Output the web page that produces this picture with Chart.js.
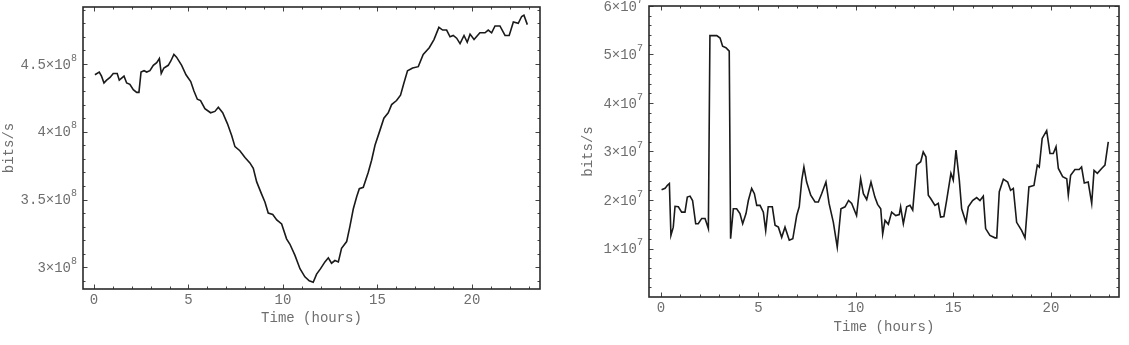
<!DOCTYPE html>
<html lang="en">
<head>
<meta charset="UTF-8">
<script src="https://cdn.jsdelivr.net/npm/chart.js"></script>
<title>bits/s over time</title>
<style>
  body { margin: 0; background: #fff; }
  .wrap { position: absolute; top: 0; height: 345px; }
  #leftWrap { left: 0; width: 560px; }
  #rightWrap { left: 560px; width: 569px; }
</style>
</head>
<body>
<div class="wrap" id="leftWrap"><canvas id="leftChart" width="560" height="345"></canvas></div>
<div class="wrap" id="rightWrap"><canvas id="rightChart" width="569" height="345"></canvas></div>

<script>
// left panel: time (hours) vs rate in units of 10^8 bits/s
const leftTime = [0.05, 0.28, 0.40, 0.53, 0.67, 0.85, 1.02, 1.23, 1.34, 1.59, 1.73, 1.90, 2.08, 2.26, 2.38,
  2.49, 2.65, 2.79, 2.96, 3.14, 3.32, 3.46, 3.56, 3.70, 3.93, 4.06, 4.23, 4.37, 4.64, 4.87, 5.12, 5.29,
  5.47, 5.64, 5.87, 6.17, 6.40, 6.58, 6.81, 7.06, 7.29, 7.46, 7.72, 7.99, 8.25, 8.43, 8.61, 8.87, 9.05,
  9.22, 9.46, 9.67, 9.93, 10.19, 10.37, 10.63, 10.90, 11.16, 11.39, 11.60, 11.78, 11.99, 12.22, 12.40,
  12.57, 12.75, 12.93, 13.10, 13.37, 13.54, 13.72, 13.90, 14.04, 14.25, 14.51, 14.69, 14.87, 15.13,
  15.34, 15.57, 15.75, 16.01, 16.22, 16.40, 16.59, 16.86, 17.16, 17.42, 17.74, 17.99, 18.25, 18.45,
  18.66, 18.84, 19.01, 19.19, 19.37, 19.58, 19.75, 19.90, 20.11, 20.42, 20.69, 20.86, 21.04, 21.22,
  21.48, 21.75, 21.97, 22.19, 22.45, 22.63, 22.75, 22.93];
const leftRate = [4.42, 4.44, 4.41, 4.36, 4.38, 4.40, 4.43, 4.43, 4.38, 4.41, 4.36, 4.35, 4.31, 4.29, 4.29,
  4.44, 4.45, 4.44, 4.45, 4.49, 4.51, 4.54, 4.43, 4.47, 4.49, 4.52, 4.57, 4.55, 4.49, 4.42, 4.37, 4.30,
  4.24, 4.23, 4.17, 4.14, 4.15, 4.18, 4.14, 4.06, 3.97, 3.89, 3.86, 3.81, 3.77, 3.73, 3.63, 3.54, 3.48,
  3.40, 3.39, 3.35, 3.32, 3.21, 3.17, 3.09, 2.99, 2.93, 2.90, 2.89, 2.95, 2.99, 3.04, 3.07,
  3.03, 3.05, 3.04, 3.14, 3.19, 3.30, 3.43, 3.52, 3.58, 3.59, 3.70, 3.79, 3.90, 4.01,
  4.10, 4.14, 4.20, 4.23, 4.27, 4.36, 4.45, 4.47, 4.48, 4.57, 4.62, 4.68, 4.77, 4.75,
  4.75, 4.70, 4.71, 4.69, 4.65, 4.71, 4.66, 4.72, 4.68, 4.73, 4.73, 4.75, 4.73, 4.78,
  4.78, 4.71, 4.71, 4.81, 4.80, 4.85, 4.86, 4.79];

// right panel: time (hours) vs rate in units of 10^7 bits/s
const rightTime = [0.03, 0.21, 0.32, 0.43, 0.51, 0.63, 0.72, 0.89, 1.06, 1.23, 1.35, 1.49, 1.62, 1.78, 1.91,
  2.09, 2.26, 2.43, 2.51, 2.86, 3.03, 3.16, 3.33, 3.50, 3.57, 3.71, 3.88, 4.05, 4.19, 4.36, 4.48, 4.65,
  4.79, 4.91, 5.08, 5.25, 5.37, 5.50, 5.71, 5.85, 6.02, 6.19, 6.36, 6.58, 6.76, 6.96, 7.09, 7.22, 7.33,
  7.47, 7.68, 7.90, 8.07, 8.24, 8.46, 8.62, 8.84, 9.04, 9.23, 9.44, 9.62, 9.78, 10.03, 10.24, 10.38,
  10.55, 10.77, 10.97, 11.11, 11.27, 11.37, 11.49, 11.66, 11.83, 12.04, 12.22, 12.29, 12.43, 12.60,
  12.77, 12.91, 13.11, 13.32, 13.45, 13.59, 13.71, 13.83, 14.05, 14.22, 14.34, 14.51, 14.65, 14.87,
  14.99, 15.13, 15.30, 15.42, 15.64, 15.76, 15.98, 16.19, 16.36, 16.53, 16.65, 16.87, 17.13, 17.22,
  17.35, 17.56, 17.78, 17.93, 18.07, 18.24, 18.50, 18.67, 18.87, 19.13, 19.30, 19.40, 19.55, 19.78,
  19.95, 20.12, 20.26, 20.38, 20.60, 20.81, 20.89, 21.01, 21.23, 21.45, 21.57, 21.71, 21.91, 22.09,
  22.21, 22.38, 22.60, 22.77, 22.94];
const rightRate = [2.21, 2.24, 2.30, 2.34, 1.27, 1.44, 1.87, 1.86, 1.75, 1.75, 2.06, 2.08, 1.99, 1.51, 1.51,
  1.62, 1.62, 1.41, 5.39, 5.39, 5.34, 5.17, 5.14, 5.07, 1.20, 1.82, 1.82, 1.72, 1.51, 1.72, 1.99, 2.24,
  2.13, 1.89, 1.89, 1.75, 1.37, 1.86, 1.86, 1.48, 1.44, 1.23, 1.44, 1.17, 1.20, 1.68, 1.86, 2.41, 2.68,
  2.37, 2.10, 1.96, 1.96, 2.13, 2.37, 1.93, 1.54, 1.03, 1.82, 1.86, 1.99, 1.93, 1.68, 2.44, 2.13,
  2.01, 2.37, 2.06, 1.91, 1.82, 1.30, 1.58, 1.50, 1.75, 1.68, 1.70, 1.86, 1.51, 1.86,
  1.89, 1.79, 2.72, 2.79, 2.99, 2.89, 2.10, 2.03, 1.89, 1.93, 1.65, 1.66, 1.99, 2.55,
  2.41, 3.03, 2.41, 1.82, 1.54, 1.86, 1.99, 2.05, 1.99, 2.08, 1.41, 1.27, 1.22, 1.22,
  2.17, 2.43, 2.37, 2.20, 2.24, 1.54, 1.37, 1.22, 2.27, 2.30, 2.72, 2.68, 3.27, 3.43,
  2.96, 2.96, 3.10, 2.65, 2.48, 2.44, 2.10, 2.51, 2.63, 2.63, 2.68, 2.35, 2.37, 1.93,
  2.61, 2.55, 2.65, 2.72, 3.20];

// tick marks and labels
const timeTicks = [0, 5, 10, 15, 20];
const leftYTicks = [3, 3.5, 4, 4.5];
const leftYLabels = ['3', '3.5', '4', '4.5'];
const leftExponent = '8';
const rightYTicks = [1, 2, 3, 4, 5, 6];
const rightYLabels = ['1', '2', '3', '4', '5', '6'];
const rightExponent = '7';

const FONT = '"Liberation Mono", "DejaVu Sans Mono", monospace';
const TEXT = '#6e6e6e';

// Mathematica style frame: box, inward ticks on all four sides, labels
const framePlugin = {
    id: 'frame',
    afterDraw(chart, args, o) {
        const ctx = chart.ctx;
        const a = chart.chartArea;
        const xs = chart.scales.x, ys = chart.scales.y;
        ctx.save();

        ctx.strokeStyle = '#444';
        ctx.lineWidth = 1;
        function xTick(v, len) {
            const px = Math.round(xs.getPixelForValue(v)) + 0.5;
            ctx.beginPath();
            ctx.moveTo(px, a.bottom); ctx.lineTo(px, a.bottom - len);
            ctx.moveTo(px, a.top); ctx.lineTo(px, a.top + len);
            ctx.stroke();
        }
        function yTick(v, len) {
            const py = Math.round(ys.getPixelForValue(v)) + 0.5;
            ctx.beginPath();
            ctx.moveTo(a.left, py); ctx.lineTo(a.left + len, py);
            ctx.moveTo(a.right, py); ctx.lineTo(a.right - len, py);
            ctx.stroke();
        }
        for (let t = 0; t <= 23; t++) xTick(t, t % 5 === 0 ? 4.5 : 2.5);
        for (let k = 0; k <= o.yMinorCount; k++) {
            const v = o.yMinorStart + k * o.yMinorStep;
            const isMajor = o.yTicks.some(m => Math.abs(m - v) < 1e-6);
            yTick(v, isMajor ? 4.5 : 2.5);
        }

        ctx.strokeStyle = '#2a2a2a';
        ctx.lineWidth = 1.6;
        ctx.strokeRect(a.left, a.top, a.right - a.left, a.bottom - a.top);

        ctx.fillStyle = TEXT;
        ctx.font = '14px ' + FONT;
        ctx.textAlign = 'center';
        ctx.textBaseline = 'middle';
        timeTicks.forEach(t => ctx.fillText(String(t), xs.getPixelForValue(t), a.bottom + 11));
        ctx.fillText('Time (hours)', (a.left + a.right) / 2, a.bottom + o.titleGap);

        // y labels like 4.5×10^8
        o.yTicks.forEach((v, i) => {
            const py = ys.getPixelForValue(v);
            const right = a.left - 6;
            ctx.font = '10px ' + FONT;
            const ew = ctx.measureText(o.exponent).width;
            ctx.textAlign = 'right';
            ctx.fillText(o.exponent, right, py - 6);
            ctx.font = '14px ' + FONT;
            ctx.fillText(o.yLabels[i] + '×10', right - ew, py + 1);
        });

        ctx.translate(o.yTitleX, (a.top + a.bottom) / 2);
        ctx.rotate(-Math.PI / 2);
        ctx.textAlign = 'center';
        ctx.font = '14px ' + FONT;
        ctx.fillText('bits/s', 0, 0);
        ctx.restore();
    }
};

function makeChart(id, times, rates, xMin, xMax, yMin, yMax, padding, frameOpts) {
    const points = times.map((t, i) => ({ x: t, y: rates[i] }));
    return new Chart(document.getElementById(id), {
        type: 'line',
        data: {
            datasets: [{
                data: points,
                borderColor: '#1a1a1a',
                borderWidth: 1.6,
                pointRadius: 0,
                tension: 0,
                fill: false
            }]
        },
        options: {
            responsive: false,
            animation: false,
            layout: { padding: padding },
            scales: {
                x: { type: 'linear', min: xMin, max: xMax, display: false },
                y: { type: 'linear', min: yMin, max: yMax, display: false }
            },
            plugins: {
                legend: { display: false },
                tooltip: { enabled: false },
                frame: frameOpts
            }
        },
        plugins: [framePlugin]
    });
}

makeChart('leftChart', leftTime, leftRate, -0.58, 23.6, 2.84, 4.92,
    { left: 83, right: 20, top: 7, bottom: 56 },
    { yTicks: leftYTicks, yLabels: leftYLabels, exponent: leftExponent,
      yMinorStart: 2.9, yMinorStep: 0.1, yMinorCount: 20, titleGap: 29, yTitleX: 9 });

makeChart('rightChart', rightTime, rightRate, -0.615, 23.49, 0, 6,
    { left: 89, right: 10, top: 6, bottom: 48 },
    { yTicks: rightYTicks, yLabels: rightYLabels, exponent: rightExponent,
      yMinorStart: 0.2, yMinorStep: 0.2, yMinorCount: 29, titleGap: 30, yTitleX: 28 });
</script>
</body>
</html>
